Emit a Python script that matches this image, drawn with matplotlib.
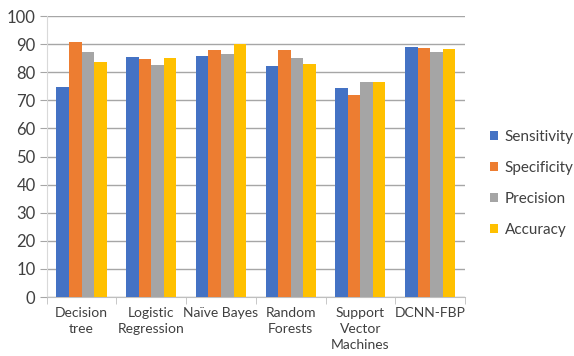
import numpy as np
import matplotlib.pyplot as plt

plt.rcParams['font.family'] = ['Lato', 'DejaVu Sans']

# classifier scores (%)
models = ['Decision\ntree', 'Logistic\nRegression', 'Naïve Bayes', 'Random\nForests',
          'Support\nVector\nMachines', 'DCNN-FBP']
sensitivity = [74.6, 85.5, 85.9, 82.1, 74.4, 88.9]
specificity = [90.9, 84.7, 87.9, 87.9, 71.8, 88.6]
precision = [87.3, 82.7, 86.5, 85.1, 76.5, 87.1]
accuracy = [83.6, 85.0, 90.0, 82.9, 76.5, 88.3]

series = [('Sensitivity', sensitivity, '#4472C4'),
          ('Specificity', specificity, '#ED7D31'),
          ('Precision', precision, '#A5A5A5'),
          ('Accuracy', accuracy, '#FFC000')]

fig = plt.figure(figsize=(5.74, 3.56), dpi=100)
ax = fig.add_axes([0.0814, 0.1657, 0.7286, 0.7893])

x = np.arange(len(models))
w = 0.18
for i, (name, vals, col) in enumerate(series):
    ax.bar(x + (i - 1.5) * w, vals, w, color=col, label=name, zorder=3)

ax.set_xlim(-0.5, len(models) - 0.5)
ax.set_ylim(0, 100)
ax.set_yticks(range(0, 101, 10))
ax.yaxis.grid(True, color='#A6A6A6', linewidth=1.0, zorder=0)
ax.tick_params(axis='y', length=5, color='#A6A6A6', labelsize=12, labelcolor='#404040', pad=3)

ax.set_xticks(x)
ax.set_xticklabels(models, fontsize=10, color='#404040', linespacing=1.4)
ax.set_xticks(np.arange(-0.5, len(models)), minor=True)
ax.tick_params(axis='x', which='major', length=0, pad=7)
ax.tick_params(axis='x', which='minor', length=5, color='#BFBFBF')

for s in ['top', 'right']:
    ax.spines[s].set_visible(False)
ax.spines['left'].set_color('#D9D9D9')
ax.spines['bottom'].set_color('#BFBFBF')

fig.legend(loc='center left', bbox_to_anchor=(0.853, 0.485), frameon=False,
           fontsize=11, handlelength=0.55, handleheight=0.55, handletextpad=0.45,
           borderpad=0, borderaxespad=0, labelspacing=1.1, labelcolor='#404040')

fig.savefig('out.png', dpi=100)
